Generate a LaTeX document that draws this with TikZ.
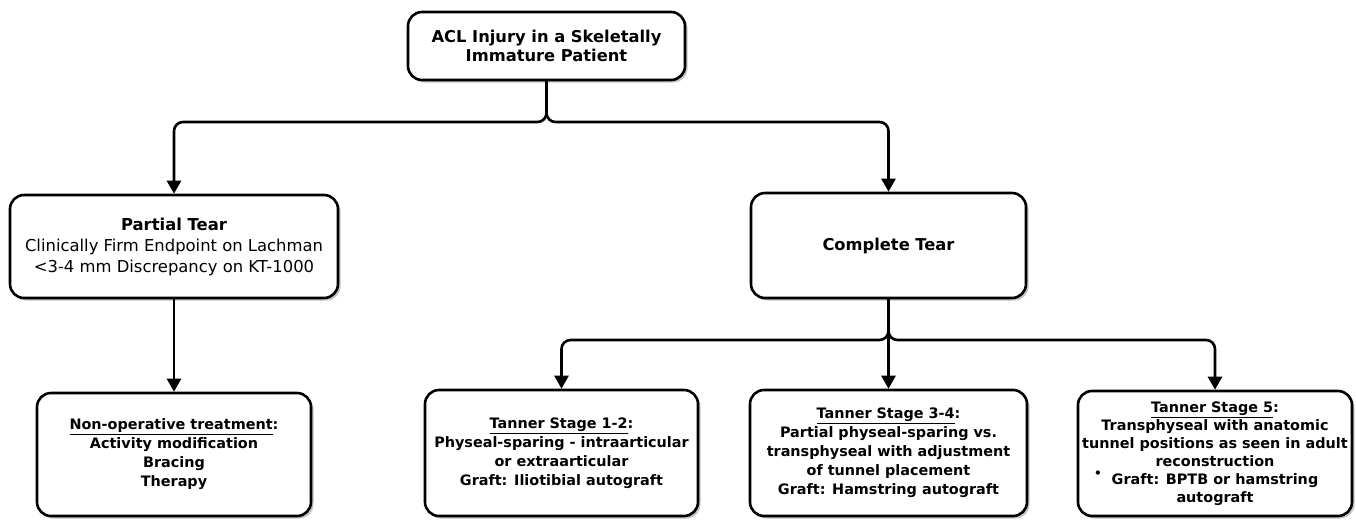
\documentclass[tikz,border=0pt]{standalone}
\usepackage{fontspec}
\setmainfont{DejaVu Sans}
\usetikzlibrary{arrows.meta,shadows}
\tikzset{
  box/.style={draw=black, line width=2.6pt, rounded corners=14pt, fill=white,
    drop shadow={shadow xshift=2.5pt, shadow yshift=-2.5pt, fill=black!45},
    align=center, inner sep=2pt, font=\fontsize{14.4}{19}\selectfont\bfseries},
  bigbox/.style={box, font=\fontsize{16.3}{19}\selectfont\bfseries},
  conn/.style={line width=2.6pt, rounded corners=9pt, -{Triangle[width=14pt,length=13pt]}}
}
\begin{document}
\begin{tikzpicture}[x=1pt,y=-1pt]
\useasboundingbox[fill=white] (0,0) rectangle (1356,520);
\node[bigbox, minimum width=277pt, minimum height=68pt] (top) at (546.5,46)
  {ACL Injury in a Skeletally\\Immature Patient};
\node[box, minimum width=328pt, minimum height=103pt, font=\fontsize{16.4}{21}\selectfont] (partial) at (174,246.5)
  {\textbf{Partial Tear}\\Clinically Firm Endpoint on Lachman\\{<}3-4 mm Discrepancy on KT-1000};
\node[bigbox, minimum width=275pt, minimum height=105pt] (complete) at (888.5,245.5)
  {Complete Tear};
\node[box, minimum width=274pt, minimum height=123pt] (nonop) at (174,454.5)
  {\underline{Non-operative treatment}:\\Activity modification\\Bracing\\Therapy};
\node[box, minimum width=273pt, minimum height=126pt] (t12) at (561.5,453)
  {\underline{Tanner Stage 1-2}:\\Physeal-sparing - intraarticular\\or extraarticular\\Graft: Iliotibial autograft};
\node[box, minimum width=277pt, minimum height=126pt] (t34) at (888.5,453)
  {\underline{Tanner Stage 3-4}:\\Partial physeal-sparing vs.\\transphyseal with adjustment\\of tunnel placement\\Graft: Hamstring autograft};
\node[box, minimum width=274pt, minimum height=125pt, font=\fontsize{14.4}{18}\selectfont\bfseries] (t5) at (1215,453.5)
  {\underline{Tanner Stage 5}:\\Transphyseal with anatomic\\tunnel positions as seen in adult\\reconstruction\\Graft: BPTB or hamstring\\autograft};
\node[font=\fontsize{12}{12}\selectfont\bfseries, inner sep=0pt] (dot) at (1098,474) {•};
\coordinate (j1) at (546.5,122);
\coordinate (j2) at (888.5,340);
\draw[conn] (top.south) -- (j1) -| (partial.north);
\draw[conn] (top.south) -- (j1) -| (complete.north);
\draw[conn] (partial.south) -- (nonop.north);
\draw[conn] (complete.south) -- (j2) -| (t12.north);
\draw[conn] (complete.south) -- (t34.north);
\draw[conn] (complete.south) -- (j2) -| (t5.north);
\end{tikzpicture}
\end{document}
